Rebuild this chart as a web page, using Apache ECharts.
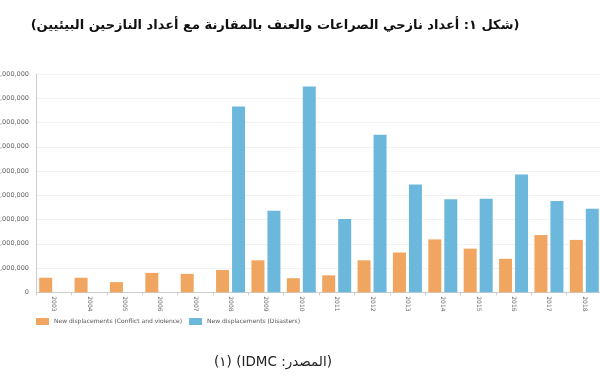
<!DOCTYPE html>
<html>
<head>
<meta charset="utf-8">
<script src="https://cdn.jsdelivr.net/npm/echarts@6/dist/echarts.min.js"></script>
<style>
html,body{margin:0;padding:0;background:#fff;}
#c{width:600px;height:380px;}
</style>
</head>
<body>
<div id="c"></div>
<script>
var years = ['2003','2004','2005','2006','2007','2008','2009','2010','2011','2012','2013','2014','2015','2016','2017','2018'];
var conflict = [3000000, 3000000, 2100000, 4000000, 3800000, 4600000, 6600000, 2900000, 3500000, 6600000, 8200000, 10900000, 9000000, 6900000, 11800000, 10800000];
var disasters = [null, null, null, null, null, 38300000, 16800000, 42400000, 15100000, 32500000, 22200000, 19200000, 19300000, 24300000, 18800000, 17200000];
var seriesNames = ['New displacements (Conflict and violence)', 'New displacements (Disasters)'];
var titleText = '(شكل ١: أعداد نازحي الصراعات والعنف بالمقارنة مع أعداد النازحين البيئيين)';
var sourceText = '(المصدر: IDMC) (١)';

var RLE = '\u202B', PDF = '\u202C';
var chart = echarts.init(document.getElementById('c'), null, {renderer: 'canvas'});
chart.setOption({
  animation: false,
  backgroundColor: '#fff',
  textStyle: {fontFamily: 'DejaVu Sans'},
  grid: {left: 36, right: -2, top: 74, bottom: 87.7, containLabel: false, outerBoundsMode: 'none'},
  legend: {
    left: 36, top: 318, padding: 0,
    itemWidth: 13, itemHeight: 7, itemGap: 7,
    icon: 'rect',
    textStyle: {fontSize: 6, color: '#555', fontFamily: 'DejaVu Sans'},
    data: seriesNames
  },
  xAxis: {
    type: 'category',
    data: years,
    axisLine: {lineStyle: {color: '#ccc'}},
    axisTick: {show: true, length: 3, lineStyle: {color: '#ccc'}},
    axisLabel: {rotate: -90, fontSize: 6, color: '#666', margin: 4, fontFamily: 'DejaVu Sans'}
  },
  yAxis: {
    type: 'value',
    min: 0, max: 45000000, interval: 5000000,
    axisLine: {show: true, lineStyle: {color: '#ccc'}},
    axisTick: {show: false},
    splitLine: {lineStyle: {color: '#f2f2f2'}},
    axisLabel: {
      fontSize: 6.5, color: '#666', margin: 7, fontFamily: 'DejaVu Sans',
      formatter: function (v) { return v.toLocaleString('en-US'); }
    }
  },
  series: [
    {name: seriesNames[0], type: 'bar', data: conflict, barWidth: 13, barGap: '23%', itemStyle: {color: '#f0a560'}},
    {name: seriesNames[1], type: 'bar', data: disasters, barWidth: 13, itemStyle: {color: '#6cb8dc'}}
  ],
  graphic: [
    {type: 'text', x: 275, y: 26, style: {text: RLE + titleText + PDF, fontSize: 13, fontWeight: 'bold', fontFamily: 'DejaVu Sans', fill: '#111', align: 'center', verticalAlign: 'middle'}},
    {type: 'text', x: 273, y: 362, style: {text: RLE + sourceText + PDF, fontSize: 13.5, fontFamily: 'DejaVu Sans', fill: '#222', align: 'center', verticalAlign: 'middle'}}
  ]
});
</script>
</body>
</html>
